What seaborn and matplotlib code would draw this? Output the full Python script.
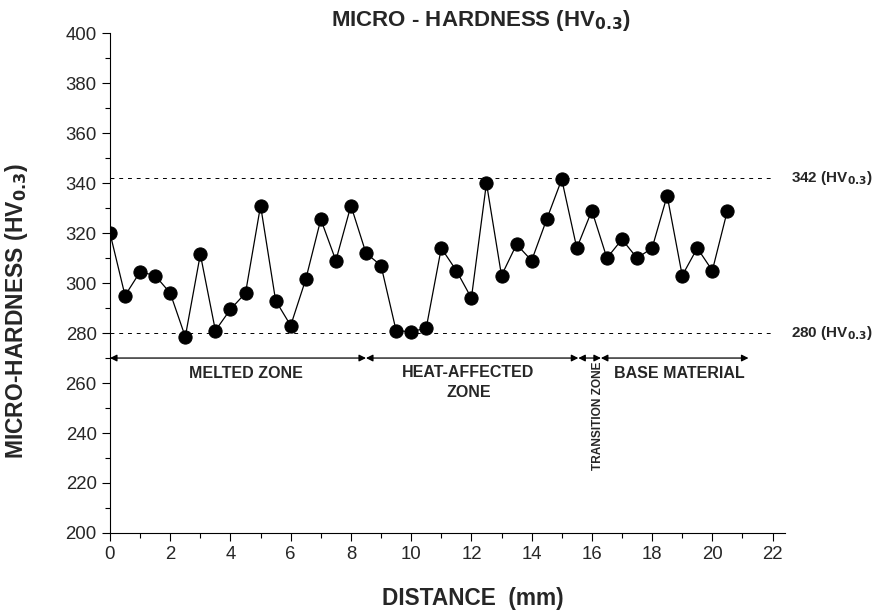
import numpy as np
import pandas as pd
import seaborn as sns
import matplotlib.pyplot as plt
from matplotlib.ticker import MultipleLocator

# datos
distancia = [0, 0.5, 1, 1.5, 2, 2.5, 3, 3.5, 4, 4.5, 5, 5.5, 6, 6.5, 7, 7.5, 8, 8.5, 9, 9.5,
             10, 10.5, 11, 11.5, 12, 12.5, 13, 13.5, 14, 14.5, 15, 15.5, 16, 16.5, 17, 17.5,
             18, 18.5, 19, 19.5, 20, 20.5]
dureza = [320, 295, 304.5, 303, 296, 278.5, 311.5, 281, 289.5, 296, 331, 293, 283, 301.5,
          325.5, 309, 331, 312, 307, 281, 280.5, 282, 314, 305, 294, 340, 303, 315.5, 309,
          325.5, 341.5, 314, 329, 310, 317.5, 310, 314, 335, 303, 314, 305, 329]
limites = [342, 280]
zonas = ["MELTED ZONE", "HEAT-AFFECTED\nZONE", "TRANSITION ZONE", "BASE MATERIAL"]
bordes_zonas = [0, 8.5, 15.55, 16.3, 21.2]

df = pd.DataFrame({"distancia": distancia, "dureza": dureza})

sns.set_style("ticks")
plt.rcParams["font.family"] = ["Liberation Sans", "DejaVu Sans"]

fig = plt.figure(figsize=(8.75, 6.11), dpi=100)
ax = fig.add_axes([0.1257, 0.1277, 0.771, 0.818])

sns.lineplot(data=df, x="distancia", y="dureza", ax=ax, color="black", lw=0.9,
             marker="o", markersize=9.5, markeredgecolor="black", markerfacecolor="black")

# lineas de limites
for v in limites:
    ax.plot([0, 22], [v, v], ls=(0, (4, 5)), color="black", lw=0.7)
    ax.text(22.6, v, f"{v} (HV$_{{\\mathbf{{0.3}}}}$)", fontsize=11, fontweight="bold",
            va="center", ha="left", clip_on=False)

# flechas de zonas
y_flecha = 270
for i in range(len(zonas)):
    ax.annotate("", xy=(bordes_zonas[i], y_flecha), xytext=(bordes_zonas[i + 1], y_flecha),
                arrowprops=dict(arrowstyle="<|-|>", color="black", lw=0.9,
                                shrinkA=0, shrinkB=0, mutation_scale=10))

ax.text(4.5, 264, zonas[0], fontsize=11.5, fontweight="bold", ha="center", va="center")
ax.text(11.9, 260.2, zonas[1], fontsize=11.5, fontweight="bold", ha="center", va="center",
        linespacing=1.35)
ax.text(16.2, 268.5, zonas[2], fontsize=8.6, fontweight="bold", ha="center", va="top",
        rotation=90)
ax.text(18.9, 264, zonas[3], fontsize=11.5, fontweight="bold", ha="center", va="center")

ax.set_xlim(0, 22.4)
ax.set_ylim(200, 400)
ax.xaxis.set_major_locator(MultipleLocator(2))
ax.xaxis.set_minor_locator(MultipleLocator(1))
ax.yaxis.set_major_locator(MultipleLocator(20))
ax.yaxis.set_minor_locator(MultipleLocator(10))
ax.tick_params(which="major", length=6, width=0.8, labelsize=13.4, color="black")
ax.tick_params(which="minor", length=3.5, width=0.8, color="black")
ax.spines["right"].set_visible(False)
ax.spines["top"].set_visible(False)
ax.spines["left"].set_color("black")
ax.spines["bottom"].set_color("black")

ax.text(0.55, 1.026, "MICRO - HARDNESS (HV$_{\\mathbf{0.3}}$)", transform=ax.transAxes,
        fontsize=16, fontweight="bold", ha="center", va="center")
ax.set_xlabel("DISTANCE  (mm)", fontsize=16.3, fontweight="bold")
ax.set_ylabel("MICRO-HARDNESS (HV$_{\\mathbf{0.3}}$)", fontsize=16.5, fontweight="bold")
ax.xaxis.set_label_coords(0.538, -0.108)
ax.yaxis.set_label_coords(-0.1185, 0.444)

plt.savefig("out.png", dpi=100)
